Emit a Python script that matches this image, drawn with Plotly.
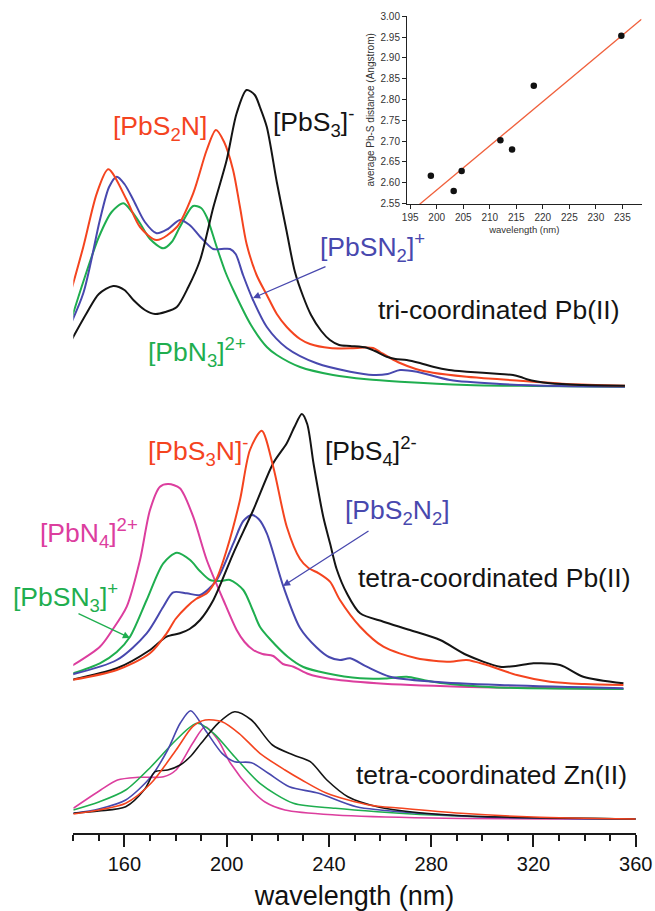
import numpy as np
import plotly.graph_objects as go

FONT = "Liberation Sans, Arial, Helvetica, sans-serif"
W, H = 655, 911

# ---------------- data: tri-coordinated Pb(II) spectra (absorbance, a.u.) ----------------
tri_PbS3_wl = [136.1, 145.2, 150, 155.6, 160, 163.5, 168, 172.0, 176, 180.5, 185, 189.6, 194.8, 200.0, 203.9,
               207.8, 211, 213.0, 215.7, 219.6, 223.5, 226.7, 230, 233, 237, 240.4, 244, 248.3, 254.8, 258,
               262.6, 266, 270.4, 275.6, 280.7, 287, 293.9, 306.9, 312.0, 315, 317.4, 326.5, 339.4, 355.8]
tri_PbS3_ab = [32, 73.7, 93, 101, 97, 87, 77, 73, 75, 80, 100, 127, 180, 227, 273.7,
               297, 292, 280, 260, 205, 155, 115, 90, 72, 56, 47, 42, 41, 39.3, 36,
               30.3, 28, 27, 24, 20.3, 17, 15.3, 13, 12, 10, 7.7, 3.7, 2, 1.3]

tri_PbS2N_wl = [136.1, 143.9, 149.2, 153.7, 160.9, 166.1, 172.6, 180.5, 186.9, 192.2, 195.8, 199, 202.5, 205.2,
                207.8, 211.7, 215.7, 219.6, 223.5, 228.7, 232.6, 240.4, 248.3, 254, 257.3, 260.0, 264, 267.8,
                274, 280.7, 293.9, 306.9, 319.9, 333, 355.8]
tri_PbS2N_ab = [68.7, 140, 193.7, 217.7, 187, 160, 147, 160, 193.7, 237, 257, 245, 217, 180,
                143, 112, 92, 73, 60, 48, 43, 39, 38.7, 39.5, 39, 35, 29, 24,
                18, 14.3, 10.3, 7.7, 5.3, 3, 1.3]

tri_PbSN2_wl = [136.1, 143.9, 150.4, 154, 157.0, 160, 163.5, 168, 172.6, 177, 181.7, 185.5, 189.6, 194.7, 198,
                201.3, 203.5, 206.4, 210.3, 215.7, 223.5, 235.2, 248.3, 257.3, 263, 267.8, 274.4, 287.4, 306.9,
                330, 355.8]
tri_PbSN2_ab = [47, 93.7, 167, 200, 210.3, 203, 187, 165, 153.7, 158, 167, 162, 150.3, 138, 138,
                138, 133, 112, 87, 60, 39, 23.7, 15.3, 12, 13, 17, 15.3, 7, 3,
                1, 0.3]

tri_PbN3_wl = [136.1, 144, 150, 155, 159.6, 163, 166.1, 170, 175.2, 178.5, 181.7, 186.9, 190, 192.2, 196.1,
               199.5, 202.6, 209.5, 215.7, 219.6, 228.7, 241.6, 254.8, 267.8, 293.9, 320, 355.8]
tri_PbN3_ab = [42, 106, 150, 175, 183.7, 175, 163.7, 148, 138.7, 145, 160, 181, 179, 170, 140,
               115, 97, 62, 40, 32, 20, 12, 7.7, 5.3, 2, 1, 0.3]

# ---------------- data: tetra-coordinated Pb(II) spectra ----------------
tet_PbS4_wl = [135.7, 157, 170, 176.5, 181.7, 185.5, 189.6, 194.8, 202.6, 210.4, 218.2, 223.5, 226.5, 229.4,
               231.5, 234, 237.8, 240.5, 243, 247, 252.2, 261.3, 271.7, 283.5, 293.9, 306.9, 313, 320, 330.4,
               339.5, 355.2]
tet_PbS4_ab = [7.3, 20.7, 39, 52.3, 55.7, 60, 69, 89, 135.7, 179, 225.7, 245.7, 262, 275,
               265, 225, 172, 145, 120, 95.7, 75.7, 67.3, 59, 49, 34, 22.3, 23, 25.7, 24,
               12.3, 5.7]

tet_PbS3N_wl = [135.7, 157, 170, 176.5, 180, 184.4, 188, 192.2, 196, 200, 205.2, 209.1, 213.7, 218.2, 223.5,
                228.7, 232, 236, 240.4, 244.3, 252.2, 261.3, 274.3, 287.4, 293.9, 301.7, 313.5, 326.5, 340,
                355.2]
tet_PbS3N_ab = [7.3, 19, 35.7, 55.7, 70, 82.3, 90, 95.7, 110, 139, 189, 239, 258.3, 222.3, 162.3,
                130, 121, 115.7, 107.3, 89, 62.3, 42.3, 30.7, 27.3, 29, 24, 14, 7.3, 5,
                4]

tet_PbS2N2_wl = [135.7, 157, 168.7, 175.2, 179.1, 184.4, 189.6, 196.1, 202.6, 206.5, 209.8, 212.5, 215.7,
                 222.2, 228.7, 235.2, 240, 244.3, 248.3, 254.8, 263.9, 280.9, 306.9, 355.2]
tet_PbS2N2_ab = [12.3, 29, 55.7, 82.3, 96.7, 95.7, 94, 109, 145.7, 168, 174, 170, 155.7,
                 102.3, 61, 41.5, 32, 29, 30.7, 22.3, 12.3, 7.3, 4, 0.7]

tet_PbSN3_wl = [135.7, 150.4, 157, 162.2, 168.7, 175.2, 180.5, 185.7, 189.5, 193.5, 197.5, 201.3, 206.5, 210,
                213.0, 216.9, 224, 230, 239.1, 252.2, 262, 270.4, 277, 284.8, 304.3, 355.2]
tet_PbSN3_ab = [12.3, 25.7, 37, 52.3, 89, 125.7, 136.3, 129, 118, 109, 108, 109, 99, 80,
                62.3, 50, 32, 22, 15.7, 10.7, 10.5, 12.3, 9, 5.7, 1.7, 0]

tet_PbN4_wl = [135.7, 150.4, 155, 160.9, 166.1, 170.0, 173.9, 177.2, 181.7, 186.9, 192.2, 198.7, 203.9, 207,
               210.4, 214, 218.2, 222, 226.1, 232, 239.1, 258.7, 291.3, 355.2]
tet_PbN4_ab = [17.3, 42.3, 58, 82.3, 129, 179, 202.3, 205, 200.7, 172.3, 129, 89, 59, 47,
               39, 35, 33, 25, 22.3, 15, 10.7, 5.7, 2.3, 0]

# ---------------- data: tetra-coordinated Zn(II) spectra ----------------
zn_black_wl = [140, 150, 160.5, 168, 172, 176.9, 181.8, 186, 190, 196.6, 203.1, 209.7, 217.9, 226.1, 232.7,
               239.2, 247.4, 258.9, 275.3, 300, 360]
zn_black_ab = [5.7, 8, 12.3, 30, 47.3, 49, 54, 63, 75.7, 95.7, 107.3, 99, 74, 64, 57.3,
               39, 22.3, 12.3, 6.3, 2.5, 0]

zn_red_wl = [140, 150, 160.5, 170.4, 180.2, 186.7, 191.6, 198.2, 204.8, 213, 222.8, 229.4, 239.2, 255.6, 268.7,
             291.7, 320, 360]
zn_red_ab = [5, 9, 15.7, 35.7, 69, 92.3, 99, 97.3, 85.7, 65.7, 49, 39, 25.7, 14, 10.7,
             5.7, 2, 0]

zn_blue_wl = [140, 150, 160.5, 170.4, 176.9, 181.8, 185.9, 191.6, 198.2, 203.1, 209.7, 216.3, 224.5, 236, 250.7,
              275.3, 300, 360]
zn_blue_ab = [5.7, 10, 19, 42.3, 69, 95.7, 108.3, 89, 65.7, 57.3, 56.3, 45.7, 32.3, 25.7, 12.3,
              5.7, 2, 0]

zn_green_wl = [140, 150, 160.5, 170.4, 180.2, 188.4, 194.9, 203.1, 213, 226.1, 242.5, 258.9, 290, 360]
zn_green_ab = [9, 17, 29, 52.3, 79, 95.7, 85.7, 62.3, 35.7, 15.7, 10.7, 7.3, 3, 0]

zn_mag_wl = [140, 150.7, 157.3, 165.4, 175.3, 180.2, 186.7, 191.6, 196.6, 201.5, 209.7, 215, 222.8, 242.5, 280, 360]
zn_mag_ab = [10.7, 29, 39, 41.7, 42.3, 49, 75.7, 92.3, 79, 55.7, 29, 17, 9, 4, 1, 0]

# ---------------- data: inset ----------------
inset_wl = [198.9, 203.2, 204.7, 212.0, 214.2, 218.3, 234.8]
inset_dist = [2.617, 2.580, 2.628, 2.702, 2.680, 2.833, 2.953]
inset_xticks = [195, 200, 205, 210, 215, 220, 225, 230, 235]
inset_yticks = [2.55, 2.60, 2.65, 2.70, 2.75, 2.80, 2.85, 2.90, 2.95, 3.00]
main_xticks = [160, 200, 240, 280, 320, 360]

# ---------------- styling ----------------
RED, BLACK, BLUE, GREEN, MAG = "#f4441f", "#141414", "#4848ae", "#1fae4f", "#dc3e9e"
OFF_TRI, OFF_TET, OFF_ZN = 446, 144, 14   # vertical stacking offsets

fig = go.Figure()


def add(wl, ab, off, color, width=2.0):
    fig.add_trace(go.Scatter(x=wl, y=np.array(ab) + off, mode="lines",
                             line=dict(color=color, width=width, shape="spline", smoothing=0.8),
                             showlegend=False, hoverinfo="skip", xaxis="x", yaxis="y"))


add(tri_PbN3_wl, tri_PbN3_ab, OFF_TRI, GREEN)
add(tri_PbSN2_wl, tri_PbSN2_ab, OFF_TRI, BLUE)
add(tri_PbS2N_wl, tri_PbS2N_ab, OFF_TRI, RED)
add(tri_PbS3_wl, tri_PbS3_ab, OFF_TRI, BLACK)

add(tet_PbN4_wl, tet_PbN4_ab, OFF_TET, MAG)
add(tet_PbSN3_wl, tet_PbSN3_ab, OFF_TET, GREEN)
add(tet_PbS2N2_wl, tet_PbS2N2_ab, OFF_TET, BLUE)
add(tet_PbS4_wl, tet_PbS4_ab, OFF_TET, BLACK)
add(tet_PbS3N_wl, tet_PbS3N_ab, OFF_TET, RED)

add(zn_mag_wl, zn_mag_ab, OFF_ZN, MAG, 1.6)
add(zn_green_wl, zn_green_ab, OFF_ZN, GREEN, 1.6)
add(zn_blue_wl, zn_blue_ab, OFF_ZN, BLUE, 1.6)
add(zn_black_wl, zn_black_ab, OFF_ZN, BLACK, 1.6)
add(zn_red_wl, zn_red_ab, OFF_ZN, RED, 1.6)

# inset: points and least-squares line
slope, icpt = np.polyfit(inset_wl, inset_dist, 1)
fit_x = np.array([194.4, 238.6])
fig.add_trace(go.Scatter(x=fit_x, y=slope * fit_x + icpt, mode="lines",
                         line=dict(color="#f0603c", width=1.3), showlegend=False,
                         hoverinfo="skip", xaxis="x2", yaxis="y2"))
fig.add_trace(go.Scatter(x=inset_wl, y=inset_dist, mode="markers",
                         marker=dict(color="#111111", size=6.5), showlegend=False,
                         hoverinfo="skip", xaxis="x2", yaxis="y2"))


def px(xp, yp):
    return xp / W, 1 - yp / H


annotations = []


def label(text, xp, yp, color, size=26.5):
    x, y = px(xp, yp)
    annotations.append(dict(text=text, x=x, y=y, xref="paper", yref="paper", xanchor="left",
                            yanchor="middle", showarrow=False,
                            font=dict(family=FONT, size=size, color=color)))


def arrow(head, tail, color):
    x, y = px(*head)
    annotations.append(dict(text="", x=x, y=y, xref="paper", yref="paper",
                            ax=tail[0] - head[0], ay=tail[1] - head[1], showarrow=True,
                            arrowhead=2, arrowsize=1.1, arrowwidth=1.3, arrowcolor=color))


label("[PbS<sub>2</sub>N]", 111, 128, RED)
label("[PbS<sub>3</sub>]<sup>-</sup>", 271, 122, BLACK)
label("[PbSN<sub>2</sub>]<sup>+</sup>", 318, 247, BLUE)
label("tri-coordinated Pb(II)", 376, 310, BLACK)
label("[PbN<sub>3</sub>]<sup>2+</sup>", 146, 352, GREEN)
label("[PbS<sub>3</sub>N]<sup>-</sup>", 146, 451, RED)
label("[PbS<sub>4</sub>]<sup>2-</sup>", 323, 451, BLACK)
label("[PbN<sub>4</sub>]<sup>2+</sup>", 38, 533, MAG)
label("[PbS<sub>2</sub>N<sub>2</sub>]", 343, 512, BLUE)
label("tetra-coordinated Pb(II)", 356, 578, BLACK)
label("[PbSN<sub>3</sub>]<sup>+</sup>", 11, 597, GREEN)
label("tetra-coordinated Zn(II)", 354, 775, BLACK)

arrow((253, 298), (327, 266), BLUE)
arrow((283, 586), (370, 530), BLUE)
arrow((130, 638), (77, 613), GREEN)

fig.update_layout(
    width=W, height=H, margin=dict(l=0, r=0, t=0, b=0, autoexpand=False),
    paper_bgcolor="white", plot_bgcolor="white", showlegend=False,
    font=dict(family=FONT, color="#111111"),
    annotations=annotations,
    xaxis=dict(domain=[73.3 / W, 635.7 / W], range=[140, 360], anchor="y", automargin=False,
               showline=True, linecolor="#1a1a1a", linewidth=2, showgrid=False, zeroline=False,
               ticks="outside", tickvals=main_xticks, ticklen=12, tickwidth=2, tickcolor="#1a1a1a",
               minor=dict(tick0=140, dtick=10, ticks="outside", ticklen=6, tickwidth=2,
                          tickcolor="#1a1a1a", showgrid=False),
               tickfont=dict(family=FONT, size=20, color="#111111"),
               title=dict(text="wavelength (nm)", font=dict(family=FONT, size=27, color="#111111"),
                          standoff=14)),
    yaxis=dict(domain=[78 / H, 1], range=[0, 833], visible=False, anchor="x", automargin=False),
    xaxis2=dict(domain=[407 / W, 641.5 / W], range=[194.4, 238.6], anchor="y2", automargin=False,
                showline=True, linecolor="#222", linewidth=1, showgrid=False, zeroline=False,
                ticks="outside", ticklen=4, tickwidth=1, tickcolor="#222", tickvals=inset_xticks,
                tickfont=dict(family=FONT, size=10, color="#333"),
                title=dict(text="wavelength (nm)", font=dict(family=FONT, size=9.5, color="#333"),
                           standoff=4)),
    yaxis2=dict(domain=[1 - 204 / H, 1 - 15.8 / H], range=[2.549, 3.001], anchor="x2", automargin=False,
                showline=True, linecolor="#222", linewidth=1, showgrid=False, zeroline=False,
                ticks="outside", ticklen=4, tickwidth=1, tickcolor="#222", tickvals=inset_yticks,
                tickformat=".2f", tickfont=dict(family=FONT, size=10, color="#333"),
                title=dict(text="average Pb-S distance (Angstrom)",
                           font=dict(family=FONT, size=10, color="#333"), standoff=4)),
)

# remove the browser's default page margin so the figure fills the window exactly
post = """
document.documentElement.style.margin = '0';
document.body.style.margin = '0';
document.documentElement.style.overflow = 'hidden';
document.body.style.overflow = 'hidden';
"""
fig.write_html("out.html", post_script=post)
